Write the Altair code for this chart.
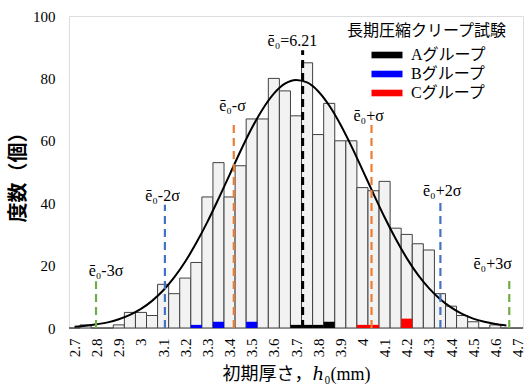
import altair as alt
import pandas as pd

# ---- data ----
h_bins = [2.70, 2.75, 2.80, 2.85, 2.90, 2.95, 3.00, 3.05, 3.10, 3.15,
          3.20, 3.25, 3.30, 3.35, 3.40, 3.45, 3.50, 3.55, 3.60, 3.65,
          3.70, 3.75, 3.80, 3.85, 3.90, 3.95, 4.00, 4.05, 4.10, 4.15,
          4.20, 4.25, 4.30, 4.35, 4.40, 4.45, 4.50, 4.55, 4.60, 4.65, 4.70]
counts = [0, 1, 0, 0, 1, 5, 5, 4, 14, 11,
          16, 21, 42, 53, 42, 52, 67, 67, 80, 76,
          68, 85, 62, 72, 60, 60, 45, 44, 47, 32,
          30, 27, 25, 11, 7, 4, 2, 0, 1, 0, 0]

group_names = ["Aグループ", "Bグループ", "Cグループ"]
group_colors = ["#000000", "#0000ff", "#ff0000"]
grp_h = [3.70, 3.75, 3.80, 3.85, 3.25, 3.35, 3.50, 4.00, 4.05, 4.20]
grp_n = [1, 1, 1, 2, 1, 2, 2, 1, 1, 3]
grp_g = ["Aグループ"] * 4 + ["Bグループ"] * 3 + ["Cグループ"] * 3

curve_h = [2.70, 2.75, 2.80, 2.85, 2.90, 2.95, 3.00, 3.05, 3.10, 3.15,
           3.20, 3.25, 3.30, 3.35, 3.40, 3.45, 3.50, 3.55, 3.60, 3.65,
           3.70, 3.75, 3.80, 3.85, 3.90, 3.95, 4.00, 4.05, 4.10, 4.15,
           4.20, 4.25, 4.30, 4.35, 4.40, 4.45, 4.50, 4.55, 4.60, 4.65]
curve_v = [0.4, 0.7, 1.2, 1.8, 2.8, 4.2, 6.1, 8.7, 12.0, 16.2,
           21.3, 27.3, 34.0, 41.4, 49.1, 56.8, 64.0, 70.2, 75.1, 78.3,
           79.5, 78.7, 75.9, 71.3, 65.3, 58.3, 50.7, 43.0, 35.5, 28.6,
           22.4, 17.1, 12.8, 9.3, 6.6, 4.5, 3.0, 2.0, 1.3, 0.8]

line_h = [2.797, 3.108, 3.419, 3.730, 4.041, 4.352, 4.663]
line_top = [15, 39.5, 66.5, 89, 67, 41.5, 16.5]
line_color = ["#70ad47", "#4472c4", "#ed7d31", "#000000", "#ed7d31", "#4472c4", "#70ad47"]
line_width = [2.2, 2.2, 2.2, 3, 2.2, 2.2, 2.2]

label_text = ["ē₀-3σ", "ē₀-2σ", "ē₀-σ", "ē₀=6.21", "ē₀+σ", "ē₀+2σ", "ē₀+3σ"]
label_h = [2.842, 3.097, 3.413, 3.684, 4.028, 4.360, 4.588]
label_v = [18.3, 42.3, 71.2, 92.0, 67.9, 43.9, 20.5]

x_ticks = [2.7, 2.8, 2.9, 3.0, 3.1, 3.2, 3.3, 3.4, 3.5, 3.6, 3.7,
           3.8, 3.9, 4.0, 4.1, 4.2, 4.3, 4.4, 4.5, 4.6, 4.7]
y_ticks = [0, 20, 40, 60, 80, 100]

half = 0.025
bars = pd.DataFrame({"h": h_bins, "n": counts})
bars["lo"] = bars["h"] - half
bars["hi"] = bars["h"] + half
bars["base"] = 0
grp = pd.DataFrame({"h": grp_h, "n": grp_n, "g": grp_g})
grp["lo"] = grp["h"] - half
grp["hi"] = grp["h"] + half
grp["base"] = 0
curve = pd.DataFrame({"h": curve_h, "v": curve_v})
lines = pd.DataFrame({"h": line_h, "top": line_top, "c": line_color,
                      "w": line_width, "z": [0] * len(line_h)})
labels = pd.DataFrame({"h": label_h, "v": label_v, "t": label_text})

SERIF = "Liberation Serif, DejaVu Serif"
JP = "Noto Sans CJK JP"
MIX = "Liberation Serif, DejaVu Serif, Noto Sans CJK JP"

xs = alt.Scale(domain=[2.675, 4.725], nice=False, zero=False)
ys = alt.Scale(domain=[0, 100], nice=False)

xaxis = alt.Axis(values=x_ticks, format="~g", labelAngle=270, labelAlign="right",
                 labelBaseline="middle", labelFont=SERIF, labelFontSize=15,
                 labelColor="black", labelPadding=10, ticks=False, domain=False,
                 grid=False, labelFlush=False, labelOverlap=False, labelBound=False,
                 title="初期厚さ，ℎ₀(mm)", titleFont=MIX, titleFontSize=18,
                 titleFontWeight="normal", titleColor="black", titleY=46,
                 titleBaseline="middle")
yaxis = alt.Axis(values=y_ticks, labelFont=SERIF, labelFontSize=15, labelColor="black",
                 labelPadding=14, ticks=False, domain=False, grid=False,
                 title="度数（個）", titleFont=JP, titleFontSize=20,
                 titleFontWeight="bold", titleColor="black", titleX=-51,
                 titleY=156, titleBaseline="middle", titleAngle=270)

gray = alt.Chart(bars).mark_bar(fill="#f2f2f2", stroke="#404040", strokeWidth=1).encode(
    x=alt.X("lo:Q", scale=xs, axis=xaxis),
    x2="hi:Q",
    y=alt.Y("n:Q", scale=ys, axis=yaxis),
    y2="base:Q",
)

colored = alt.Chart(grp).mark_bar(strokeWidth=0).encode(
    x=alt.X("lo:Q", scale=xs, axis=xaxis),
    x2="hi:Q",
    y=alt.Y("n:Q", scale=ys, axis=yaxis),
    y2="base:Q",
    color=alt.Color("g:N", scale=alt.Scale(domain=group_names, range=group_colors),
                    legend=alt.Legend(title="長期圧縮クリープ試験", orient="none",
                                      legendX=278, legendY=7, padding=0,
                                      titleFont=JP, titleFontSize=16,
                                      titleFontWeight="normal", titleColor="black",
                                      titlePadding=6,
                                      labelFont=MIX,
                                      labelFontSize=16, labelColor="black",
                                      symbolType="M-1.55,-0.33H1.55V0.33H-1.55Z",
                                      symbolSize=400, symbolStrokeWidth=0,
                                      symbolOpacity=1, symbolOffset=30,
                                      labelOffset=14, rowPadding=1)),
)

curve_line = alt.Chart(curve).mark_line(color="black", strokeWidth=2,
                                        interpolate="monotone").encode(
    x=alt.X("h:Q", scale=xs, axis=xaxis), y=alt.Y("v:Q", scale=ys, axis=yaxis))

rules = alt.Chart(lines).mark_rule(strokeDash=[8, 5]).encode(
    x=alt.X("h:Q", scale=xs, axis=xaxis),
    y=alt.Y("z:Q", scale=ys, axis=yaxis),
    y2="top:Q",
    color=alt.Color("c:N", scale=None),
    strokeWidth=alt.StrokeWidth("w:Q", scale=None),
)

texts = alt.Chart(labels).mark_text(font=SERIF, fontSize=16, color="black",
                                    align="center", baseline="middle").encode(
    x=alt.X("h:Q", scale=xs, axis=xaxis), y=alt.Y("v:Q", scale=ys, axis=yaxis),
    text="t:N")

chart = alt.layer(gray, colored, curve_line, rules, texts).properties(
    width=454, height=312,
    autosize=alt.AutoSizeParams(type="none"),
    padding={"left": 69, "top": 16, "right": 3, "bottom": 58},
).configure_view(stroke="black", strokeWidth=1).configure_axis(
    labelOverlap=False).configure(background="white")

chart.save("out.html", embed_options={"renderer": "svg", "actions": False})
